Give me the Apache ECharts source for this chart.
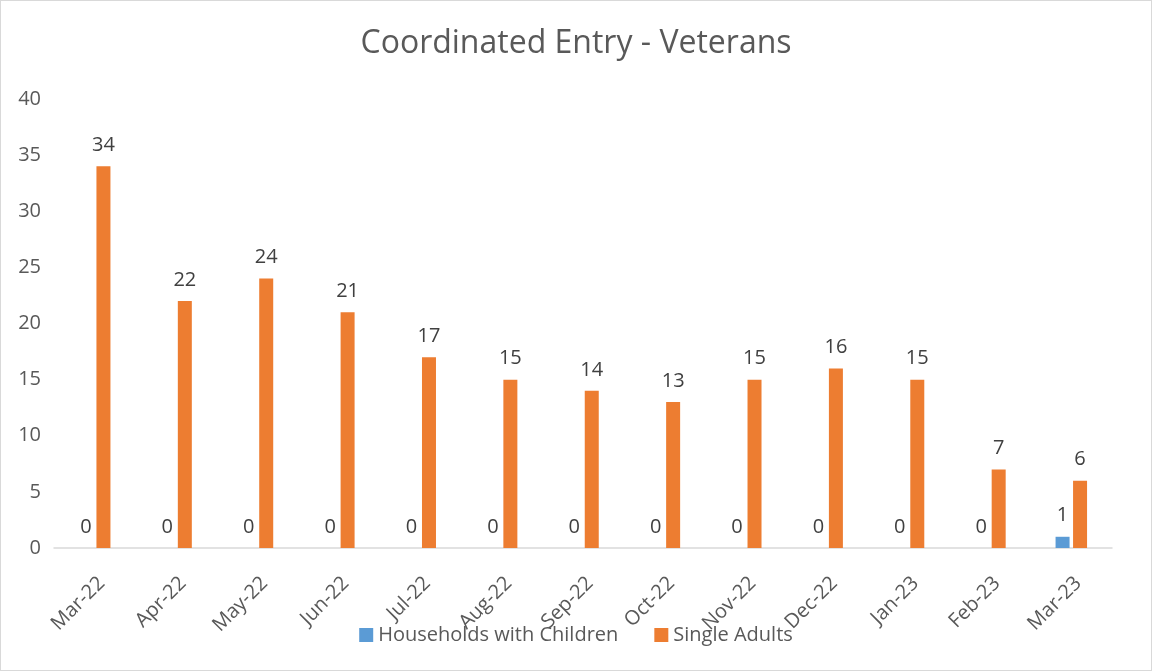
<!DOCTYPE html>
<html>
<head>
<meta charset="utf-8">
<script src="https://cdn.jsdelivr.net/npm/echarts@6/dist/echarts.min.js"></script>
<style>
html,body{margin:0;padding:0;background:#fff;}
#c{width:1152px;height:671px;box-sizing:border-box;border:1px solid #d9d9d9;}
</style>
</head>
<body>
<div id="c"></div>
<script>
const categories = ['Mar-22','Apr-22','May-22','Jun-22','Jul-22','Aug-22','Sep-22','Oct-22','Nov-22','Dec-22','Jan-23','Feb-23','Mar-23'];
const householdsWithChildren = [0,0,0,0,0,0,0,0,0,0,0,0,1];
const singleAdults = [34,22,24,21,17,15,14,13,15,16,15,7,6];
const yTicks = {min:0, max:40, interval:5};

const font = '"Open Sans", "Noto Sans", sans-serif';
const chart = echarts.init(document.getElementById('c'));
chart.setOption({
  animation:false,
  title:{text:'Coordinated Entry - Veterans', left:'center', top:22,
    textStyle:{fontFamily:font, fontSize:32, fontWeight:'normal', color:'#595959'}},
  grid:{left:53, right:39, top:98, bottom:122, containLabel:false},
  legend:{bottom:20, left:'center', itemWidth:14, itemHeight:14, itemGap:36, icon:'rect',
    textStyle:{fontFamily:font, fontSize:20, color:'#595959'},
    data:['Households with Children','Single Adults']},
  xAxis:{type:'category', data:categories,
    axisLine:{lineStyle:{color:'#d9d9d9', width:1.5}},
    axisTick:{show:false},
    axisLabel:{rotate:45, fontFamily:font, fontSize:20, color:'#595959', margin:25, align:'right', verticalAlign:'top'}},
  yAxis:{type:'value', min:yTicks.min, max:yTicks.max, interval:yTicks.interval,
    splitLine:{show:false}, axisLine:{show:false}, axisTick:{show:false},
    axisLabel:{fontFamily:font, fontSize:20, color:'#595959', margin:13}},
  series:[
    {name:'Households with Children', type:'bar', data:householdsWithChildren, barWidth:14, barGap:'25%',
      itemStyle:{color:'#5b9bd5'},
      label:{show:true, position:'top', distance:11, fontFamily:font, fontSize:20, color:'#404040'}},
    {name:'Single Adults', type:'bar', data:singleAdults, barWidth:14, barGap:'25%',
      itemStyle:{color:'#ed7d31'},
      label:{show:true, position:'top', distance:11, fontFamily:font, fontSize:20, color:'#404040'}}
  ]
});
</script>
</body>
</html>
